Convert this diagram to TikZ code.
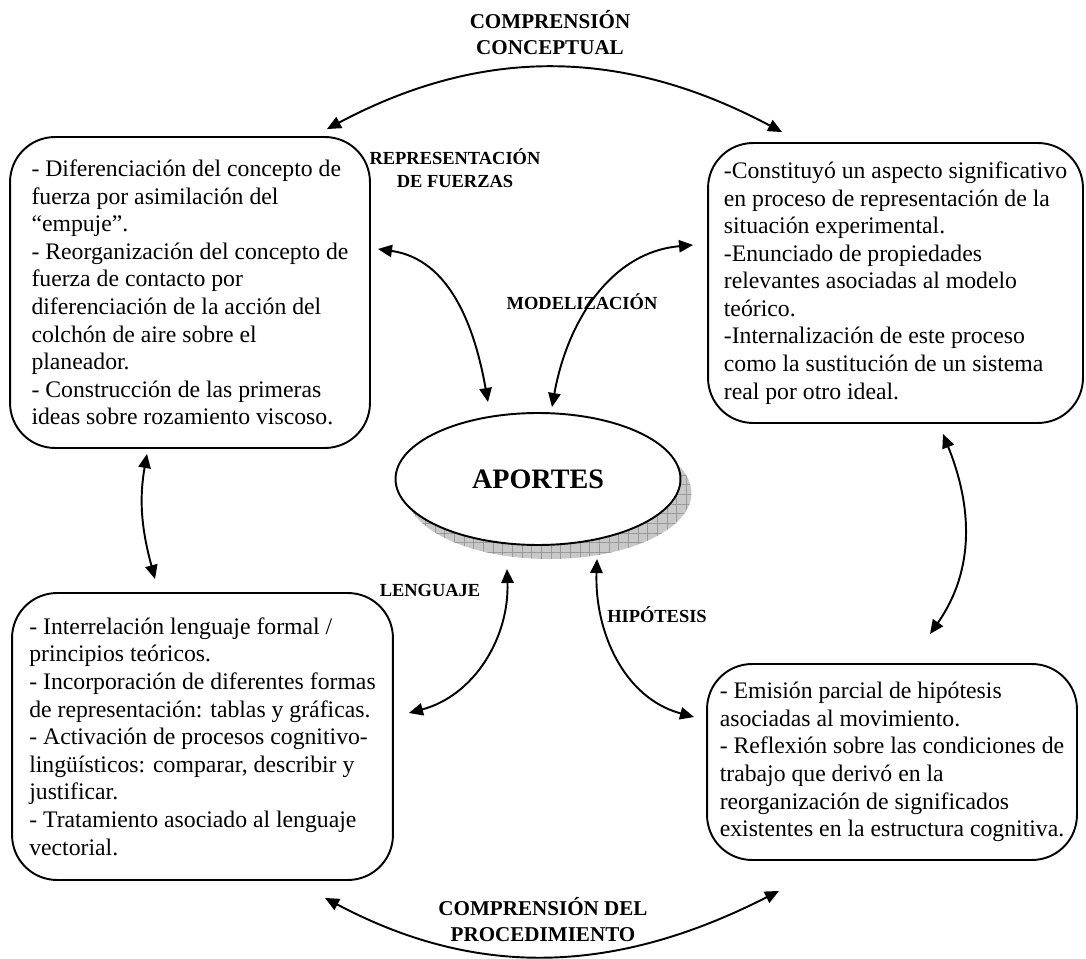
\documentclass[tikz,border=0pt]{standalone}
\usepackage{fontspec}
\setmainfont{Liberation Serif}
\usepackage{tikz}
\usetikzlibrary{shapes.geometric,arrows.meta,patterns.meta}
\definecolor{shadowgray}{RGB}{200,200,200}

\begin{document}
\begin{tikzpicture}[x=0.02cm, y=0.02cm,
    box/.style={draw, line width=1.1pt, rounded corners=0.9cm, align=left,
        font=\fontsize{13.5}{15.7}\selectfont, inner sep=0pt},
    lbl/.style={align=center, font=\fontsize{10.5}{13}\selectfont\bfseries},
    biglbl/.style={align=center, font=\fontsize{12}{14.8}\selectfont\bfseries},
    link/.style={{Triangle[length=8pt,width=7pt]}-{Triangle[length=8pt,width=7pt]}, line width=1.1pt}]
    \useasboundingbox (0,0) rectangle (1086,958);

    % centre
    \coordinate (apc) at (538,479);
    \fill[shadowgray] ([shift={(11,-14)}]apc) ellipse [x radius=2.85cm, y radius=1.32cm];
    \fill[pattern={Hatch[angle=0,distance=5.5pt,line width=0.3pt]}, pattern color=gray!80]
        ([shift={(11,-14)}]apc) ellipse [x radius=2.85cm, y radius=1.32cm];
    \node[ellipse, draw, line width=1.1pt, fill=white, minimum width=5.7cm, minimum height=2.64cm,
        inner sep=0pt, font=\fontsize{16}{19}\selectfont\bfseries] (ap) at (apc) {APORTES};

    % boxes
    \node[box, minimum width=7.2cm, minimum height=6.22cm] (tl) at (190,665.5) {%
        - Diferenciación del concepto de\\
        fuerza por asimilación del\\
        “empuje”.\\
        - Reorganización del concepto de\\
        fuerza de contacto por\\
        diferenciación de la acción del\\
        colchón de aire sobre el\\
        planeador.\\
        - Construcción de las primeras\\
        ideas sobre rozamiento viscoso.};
    \node[box, minimum width=7.5cm, minimum height=5.6cm] (tr) at (895.5,675) {%
        -Constituyó un aspecto significativo\\
        en proceso de representación de la\\
        situación experimental.\\
        -Enunciado de propiedades\\
        relevantes asociadas al modelo\\
        teórico.\\
        -Internalización de este proceso\\
        como la sustitución de un sistema\\
        real por otro ideal.};
    \node[box, minimum width=7.62cm, minimum height=5.74cm] (bl) at (202.5,221.5) {%
        - Interrelación lenguaje formal /\\
        principios teóricos.\\
        - Incorporación de diferentes formas\\
        de representación: tablas y gráficas.\\
        - Activación de procesos cognitivo-\\
        lingüísticos: comparar, describir y\\
        justificar.\\
        - Tratamiento asociado al lenguaje\\
        vectorial.};
    \node[box, minimum width=7.4cm, minimum height=3.92cm] (br) at (892,196) {%
        - Emisión parcial de hipótesis\\
        asociadas al movimiento.\\
        - Reflexión sobre las condiciones de\\
        trabajo que derivó en la\\
        reorganización de significados\\
        existentes en la estructura cognitiva.};

    % labels
    \node[biglbl] (cc) at (550,925) {COMPRENSIÓN\\CONCEPTUAL};
    \node[lbl] (rf) at (455,790) {REPRESENTACIÓN\\DE FUERZAS};
    \node[lbl] (mo) at (582,656) {MODELIZACIÓN};
    \node[lbl] (le) at (430,368) {LENGUAJE};
    \node[lbl] (hi) at (657,343) {HIPÓTESIS};
    \node[biglbl] (cp) at (543,38) {COMPRENSIÓN DEL\\PROCEDIMIENTO};

    % arrows
    \draw[link] ([shift={(-44,7)}]tl.north east) to[out=28,in=152] ([shift={(75,10)}]tr.north west);
    \draw[link] ([shift={(7,43.5)}]tl.east) to[out=-8,in=100] ([shift={(-50,10)}]ap.north);
    \draw[link] ([shift={(14,5)}]ap.north) to[out=80,in=185] ([shift={(-14,38)}]tr.west);
    \draw[link] ([shift={(-43,-5)}]tl.south) to[out=-100,in=105] ([shift={(-47.5,13)}]bl.north);
    \draw[link] ([shift={(47.5,-10)}]tr.south) to[out=-68,in=55] ([shift={(38,29)}]br.north);
    \draw[link] ([shift={(-31,-23)}]ap.south) to[out=-88,in=15] ([shift={(15,23.5)}]bl.east);
    \draw[link] ([shift={(59,-13)}]ap.south) to[out=-92,in=165] ([shift={(-12,45)}]br.west);
    \draw[link] ([shift={(122.5,-17)}]bl.south) to[out=-28,in=207] ([shift={(-113,-30)}]br.south);
\end{tikzpicture}
\end{document}
